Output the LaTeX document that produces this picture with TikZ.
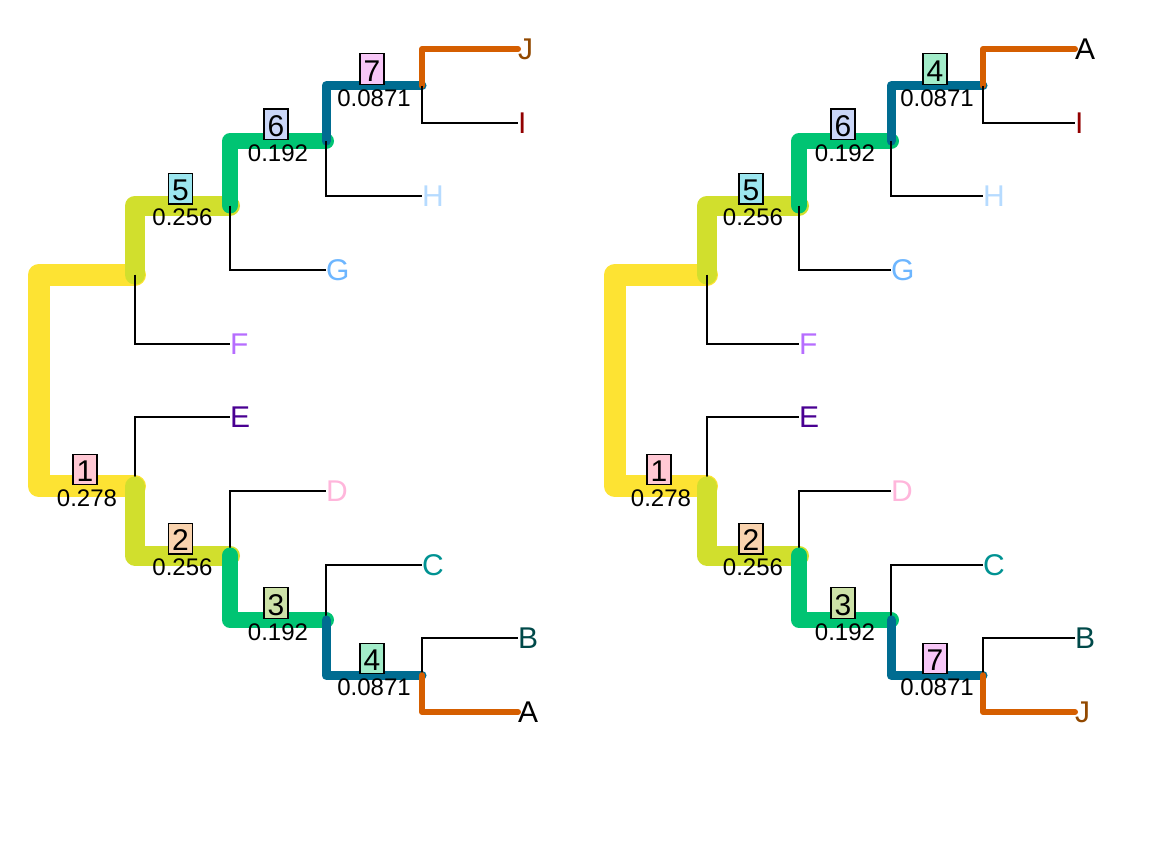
\documentclass[tikz,border=0pt]{standalone}
\usepackage{fontspec}
\setmainfont{Liberation Sans}
\usetikzlibrary{positioning}

% branch colours
\definecolor{brYellow}{HTML}{FDE333}
\definecolor{brLime}{HTML}{D1DF2D}
\definecolor{brGreen}{HTML}{00C473}
\definecolor{brBlue}{HTML}{006C91}
\definecolor{brOrange}{HTML}{D55E00}
% leaf colours
\definecolor{lfA}{HTML}{000000}
\definecolor{lfB}{HTML}{004949}
\definecolor{lfC}{HTML}{009292}
\definecolor{lfD}{HTML}{FFB6DB}
\definecolor{lfE}{HTML}{490092}
\definecolor{lfF}{HTML}{B66DFF}
\definecolor{lfG}{HTML}{6DB6FF}
\definecolor{lfH}{HTML}{B6DBFF}
\definecolor{lfI}{HTML}{920000}
\definecolor{lfJ}{HTML}{924900}
% label boxes
\definecolor{bxOne}{HTML}{FFC8D4}
\definecolor{bxTwo}{HTML}{F9D3AE}
\definecolor{bxThree}{HTML}{CDE2A8}
\definecolor{bxFour}{HTML}{A2ECC9}
\definecolor{bxFive}{HTML}{9CE6EF}
\definecolor{bxSix}{HTML}{CAD6F7}
\definecolor{bxSeven}{HTML}{F7C7F7}

\tikzset{
    branch/.style={
        line cap=round,
        line join=round
    },
    lvla/.style={branch, draw=brYellow, line width=22pt},
    lvlb/.style={branch, draw=brLime, line width=20pt},
    lvlc/.style={branch, draw=brGreen, line width=16pt},
    lvld/.style={branch, draw=brBlue, line width=9pt},
    lvle/.style={branch, draw=brOrange, line width=6pt},
    leafedge/.style={draw=black, line width=1.8pt},
    leaf/.style={
        anchor=west,
        inner sep=0pt,
        text height=21pt,
        text depth=0pt,
        font=\fontsize{30}{30}\selectfont
    },
    edgebox/.style={
        draw,
        line width=1.2pt,
        anchor=south,
        inner sep=0pt,
        minimum width=24pt,
        text height=27.5pt,
        text depth=3pt,
        xshift=-2pt,
        yshift=1pt,
        font=\fontsize{30}{30}\selectfont
    },
    edgeval/.style={
        anchor=north,
        inner sep=0pt,
        text height=17pt,
        text depth=0pt,
        yshift=-3pt,
        font=\fontsize{24}{24}\selectfont
    }
}

\begin{document}
\begin{tikzpicture}[
    x=1pt,
    y=-1pt
]

    \useasboundingbox (0,0) rectangle (1152,865);

    % ---------------- Arbol izquierdo ----------------
    % Nodos internos
    \coordinate (lroot) at (39,380.5);
    \coordinate (la)    at (135,274.6);
    \coordinate (l5)    at (230,205.5);
    \coordinate (l6)    at (326,141.1);
    \coordinate (l7)    at (422,85.8);
    \coordinate (l1)    at (135,486.4);
    \coordinate (l2)    at (230,555.5);
    \coordinate (l3)    at (326,619.9);
    \coordinate (l4)    at (422,675.2);

    % Hojas
    \node[leaf, text=lfJ] (lJ) at (518,49)    {J};
    \node[leaf, text=lfI] (lI) at (518,122.7) {I};
    \node[leaf, text=lfH] (lH) at (422,196.3) {H};
    \node[leaf, text=lfG] (lG) at (326,270)   {G};
    \node[leaf, text=lfF] (lF) at (230,343.7) {F};
    \node[leaf, text=lfE] (lE) at (230,417.3) {E};
    \node[leaf, text=lfD] (lD) at (326,491)   {D};
    \node[leaf, text=lfC] (lC) at (422,564.7) {C};
    \node[leaf, text=lfB] (lB) at (518,638.3) {B};
    \node[leaf, text=lfA] (lA) at (518,712)   {A};

    % Ramas (de arriba hacia abajo)
    \draw[lvla] (lroot) |- (la);
    \draw[lvlb] (la) |- (l5);
    \draw[lvlc] (l5) |- (l6);
    \draw[lvld] (l6) |- (l7);
    \draw[lvle] (l7) |- (lJ.west);
    \draw[leafedge] (l7) |- (lI.west);
    \draw[leafedge] (l6) |- (lH.west);
    \draw[leafedge] (l5) |- (lG.west);
    \draw[leafedge] (la) |- (lF.west);
    \draw[lvla] (lroot) |- (l1);
    \draw[leafedge] (l1) |- (lE.west);
    \draw[lvlb] (l1) |- (l2);
    \draw[leafedge] (l2) |- (lD.west);
    \draw[lvlc] (l2) |- (l3);
    \draw[leafedge] (l3) |- (lC.west);
    \draw[lvld] (l3) |- (l4);
    \draw[leafedge] (l4) |- (lB.west);
    \draw[lvle] (l4) |- (lA.west);

    % Etiquetas de ramas
    \path (la) |- (l5)
        node[pos=0.75, edgebox, fill=bxFive] {5}
        node[pos=0.75, edgeval] {0.256};
    \path (l5) |- (l6)
        node[pos=0.75, edgebox, fill=bxSix] {6}
        node[pos=0.75, edgeval] {0.192};
    \path (l6) |- (l7)
        node[pos=0.75, edgebox, fill=bxSeven] {7}
        node[pos=0.75, edgeval] {0.0871};
    \path (lroot) |- (l1)
        node[pos=0.75, edgebox, fill=bxOne] {1}
        node[pos=0.75, edgeval] {0.278};
    \path (l1) |- (l2)
        node[pos=0.75, edgebox, fill=bxTwo] {2}
        node[pos=0.75, edgeval] {0.256};
    \path (l2) |- (l3)
        node[pos=0.75, edgebox, fill=bxThree] {3}
        node[pos=0.75, edgeval] {0.192};
    \path (l3) |- (l4)
        node[pos=0.75, edgebox, fill=bxFour] {4}
        node[pos=0.75, edgeval] {0.0871};

    % ---------------- Arbol derecho ----------------
    % Nodos internos
    \coordinate (rroot) at (615,380.5);
    \coordinate (ra)    at (707,274.6);
    \coordinate (r5)    at (799,205.5);
    \coordinate (r6)    at (891,141.1);
    \coordinate (r4)    at (983,85.8);
    \coordinate (r1)    at (707,486.4);
    \coordinate (r2)    at (799,555.5);
    \coordinate (r3)    at (891,619.9);
    \coordinate (r7)    at (983,675.2);

    % Hojas
    \node[leaf, text=lfA] (rA) at (1075,49)    {A};
    \node[leaf, text=lfI] (rI) at (1075,122.7) {I};
    \node[leaf, text=lfH] (rH) at (983,196.3)  {H};
    \node[leaf, text=lfG] (rG) at (891,270)    {G};
    \node[leaf, text=lfF] (rF) at (799,343.7)  {F};
    \node[leaf, text=lfE] (rE) at (799,417.3)  {E};
    \node[leaf, text=lfD] (rD) at (891,491)    {D};
    \node[leaf, text=lfC] (rC) at (983,564.7)  {C};
    \node[leaf, text=lfB] (rB) at (1075,638.3) {B};
    \node[leaf, text=lfJ] (rJ) at (1075,712)   {J};

    % Ramas (de arriba hacia abajo)
    \draw[lvla] (rroot) |- (ra);
    \draw[lvlb] (ra) |- (r5);
    \draw[lvlc] (r5) |- (r6);
    \draw[lvld] (r6) |- (r4);
    \draw[lvle] (r4) |- (rA.west);
    \draw[leafedge] (r4) |- (rI.west);
    \draw[leafedge] (r6) |- (rH.west);
    \draw[leafedge] (r5) |- (rG.west);
    \draw[leafedge] (ra) |- (rF.west);
    \draw[lvla] (rroot) |- (r1);
    \draw[leafedge] (r1) |- (rE.west);
    \draw[lvlb] (r1) |- (r2);
    \draw[leafedge] (r2) |- (rD.west);
    \draw[lvlc] (r2) |- (r3);
    \draw[leafedge] (r3) |- (rC.west);
    \draw[lvld] (r3) |- (r7);
    \draw[leafedge] (r7) |- (rB.west);
    \draw[lvle] (r7) |- (rJ.west);

    % Etiquetas de ramas
    \path (ra) |- (r5)
        node[pos=0.75, edgebox, fill=bxFive] {5}
        node[pos=0.75, edgeval] {0.256};
    \path (r5) |- (r6)
        node[pos=0.75, edgebox, fill=bxSix] {6}
        node[pos=0.75, edgeval] {0.192};
    \path (r6) |- (r4)
        node[pos=0.75, edgebox, fill=bxFour] {4}
        node[pos=0.75, edgeval] {0.0871};
    \path (rroot) |- (r1)
        node[pos=0.75, edgebox, fill=bxOne] {1}
        node[pos=0.75, edgeval] {0.278};
    \path (r1) |- (r2)
        node[pos=0.75, edgebox, fill=bxTwo] {2}
        node[pos=0.75, edgeval] {0.256};
    \path (r2) |- (r3)
        node[pos=0.75, edgebox, fill=bxThree] {3}
        node[pos=0.75, edgeval] {0.192};
    \path (r3) |- (r7)
        node[pos=0.75, edgebox, fill=bxSeven] {7}
        node[pos=0.75, edgeval] {0.0871};

\end{tikzpicture}
\end{document}
